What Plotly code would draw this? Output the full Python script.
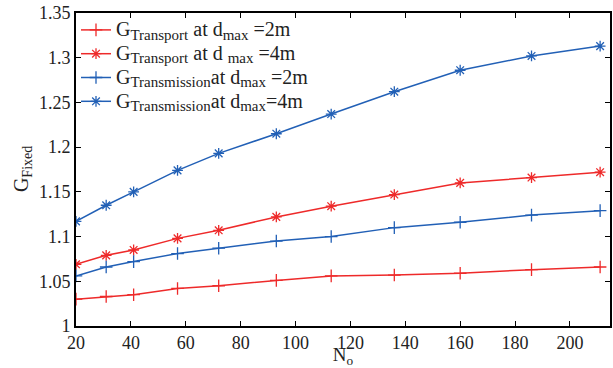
import plotly.graph_objects as go

# Number of objects N_o on the x axis
n_o = [20, 31, 41, 57, 72, 93, 113, 136, 160, 186, 211]

# Fixed gain for each configuration
g_transport_2m = [1.030, 1.033, 1.035, 1.042, 1.045, 1.051, 1.056, 1.057, 1.059, 1.063, 1.066]
g_transport_4m = [1.069, 1.079, 1.085, 1.098, 1.107, 1.122, 1.134, 1.147, 1.160, 1.166, 1.172]
g_transmission_2m = [1.056, 1.066, 1.072, 1.081, 1.087, 1.095, 1.100, 1.110, 1.116, 1.124, 1.129]
g_transmission_4m = [1.117, 1.135, 1.150, 1.174, 1.193, 1.215, 1.237, 1.262, 1.286, 1.302, 1.313]


def big(text, px=20):
    return "<span style=\"font-size:%dpx\">%s</span>" % (px, text)


def sub(text, px=15):
    return "<sub><span style=\"font-size:%dpx\">%s</span></sub>" % (px, text)


labels = [
    big("G") + sub("Transport") + big(" at d") + sub("max") + big(" =2m"),
    big("G") + sub("Transport") + big(" at d ") + sub("max") + big(" =4m"),
    big("G") + sub("Transmission") + big("at d") + sub("max") + big(" =2m"),
    big("G") + sub("Transmission") + big("at d") + sub("max") + big("=4m"),
]

RED = "#ee2a2a"
BLUE = "#2260b6"

series = [
    (g_transport_2m, RED, "cross-thin-open"),
    (g_transport_4m, RED, "asterisk-open"),
    (g_transmission_2m, BLUE, "cross-thin-open"),
    (g_transmission_4m, BLUE, "asterisk-open"),
]

FONT = "Liberation Serif"

fig = go.Figure()
for (vals, color, symbol), name in zip(series, labels):
    fig.add_trace(go.Scatter(
        x=n_o, y=vals, name=name, mode="lines+markers",
        line=dict(color=color, width=1.5),
        marker=dict(symbol=symbol, size=9, line=dict(color=color, width=1.3)),
    ))

axis_common = dict(
    showline=True, linecolor="black", linewidth=1.6, mirror="ticks",
    ticks="inside", ticklen=5, tickwidth=1.2, tickcolor="black",
    showgrid=False, zeroline=False, automargin=False,
    tickfont=dict(family=FONT, size=18, color="#222"),
)

fig.update_layout(
    width=613, height=368,
    margin=dict(l=76, r=3, t=13, b=42),
    paper_bgcolor="white", plot_bgcolor="white",
    font=dict(family=FONT, color="#222"),
    showlegend=True,
    legend=dict(
        x=0.0, y=1.0, xanchor="left", yanchor="top",
        bgcolor="rgba(255,255,255,0)", borderwidth=0,
        font=dict(family=FONT, size=16, color="#222"),
        tracegroupgap=0, itemwidth=30,
    ),
    xaxis=dict(
        range=[20, 214.6], tickvals=list(range(20, 201, 20)),
        title=dict(text="N<sub>o</sub>", font=dict(family=FONT, size=19), standoff=5),
        **axis_common,
    ),
    yaxis=dict(
        range=[1.0, 1.35], dtick=0.05, tick0=1.0,
        **axis_common,
    ),
    annotations=[dict(
        text="G" + sub("Fixed", 14), textangle=-90,
        xref="paper", yref="paper", x=-0.1, y=0.5,
        xanchor="center", yanchor="middle", showarrow=False,
        font=dict(family=FONT, size=20, color="#222"),
    )],
)

fig.write_html("out.html")
